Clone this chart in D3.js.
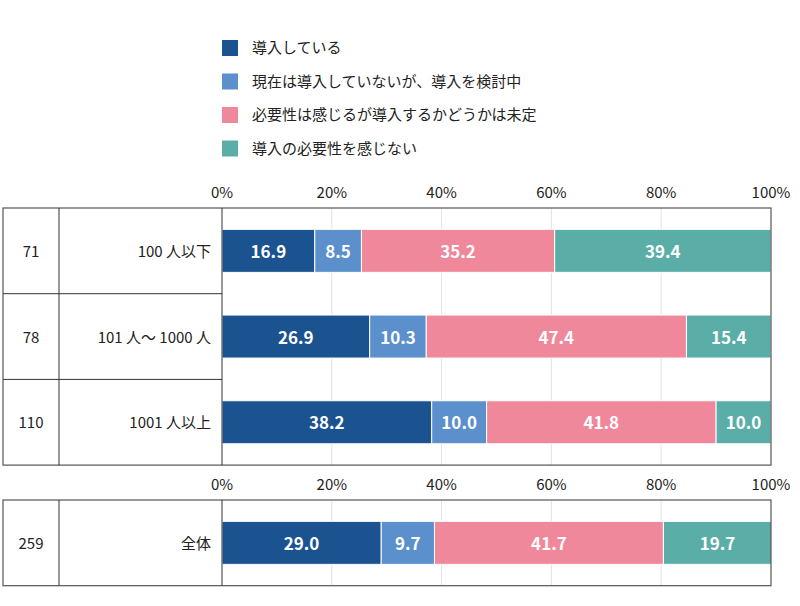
<!DOCTYPE html>
<html><head><meta charset="utf-8">
<script src="https://cdn.jsdelivr.net/npm/d3@7"></script>
<style>body{margin:0;background:#fff}text{font-family:"Noto Sans CJK JP","Noto Sans",sans-serif}</style>
</head><body>
<script>
var seriesNames = ["導入している", "現在は導入していないが、導入を検討中", "必要性は感じるが導入するかどうかは未定", "導入の必要性を感じない"];
var colors = ["#1b5290", "#5b90cd", "#f0889b", "#5baea7"];
var groupN = ["71", "78", "110"];
var groupLabels = ["100 人以下", "101 人～ 1000 人", "1001 人以上"];
var groupValues = [[16.9, 8.5, 35.2, 39.4], [26.9, 10.3, 47.4, 15.4], [38.2, 10.0, 41.8, 10.0]];
var totalN = ["259"];
var totalLabels = ["全体"];
var totalValues = [[29.0, 9.7, 41.7, 19.7]];
var ticks = [0, 20, 40, 60, 80, 100];

var svg = d3.select("body").append("svg").attr("width", 800).attr("height", 606);

var lg = svg.selectAll(".lg").data(seriesNames).enter().append("g")
  .attr("transform", function (d, i) { return "translate(222," + (40 + i * 33.5) + ")"; });
lg.append("rect").attr("width", 16).attr("height", 16).attr("fill", function (d, i) { return colors[i]; });
lg.append("text").attr("x", 30).attr("y", 13).attr("font-size", 15).attr("fill", "#222").text(function (d) { return d; });

var x = d3.scaleLinear().domain([0, 100]).range([222, 771]);

function panel(top, ns, labels, values) {
  var rowH = 85.7;
  var h = rowH * labels.length;
  var g = svg.append("g");
  g.selectAll(".grid").data(ticks.slice(1, 5)).enter().append("line")
    .attr("x1", x).attr("x2", x).attr("y1", top).attr("y2", top + h)
    .attr("stroke", "#e2e2e2");
  g.selectAll(".tk").data(ticks).enter().append("text")
    .attr("x", x).attr("y", top - 10).attr("text-anchor", "middle")
    .attr("font-size", 15).attr("fill", "#222").text(function (d) { return d + "%"; });
  var y = d3.scaleBand().domain(d3.range(labels.length)).range([top, top + h]);
  labels.forEach(function (lab, r) {
    var cy = y(r) + y.bandwidth() / 2;
    g.append("text").attr("x", 31).attr("y", cy + 6).attr("text-anchor", "middle")
      .attr("font-size", 15).attr("fill", "#222").text(ns[r]);
    g.append("text").attr("x", 211).attr("y", cy + 6).attr("text-anchor", "end")
      .attr("font-size", 15).attr("fill", "#222").text(lab);
    if (r > 0) g.append("line").attr("x1", 3).attr("x2", 222).attr("y1", y(r)).attr("y2", y(r)).attr("stroke", "#333");
    var acc = 0;
    values[r].forEach(function (v, k) {
      var x0 = x(acc), x1 = x(acc + v);
      acc += v;
      g.append("rect").attr("x", x0).attr("y", cy - 21.5).attr("width", x1 - x0).attr("height", 43)
        .attr("fill", colors[k]).attr("stroke", "#fff").attr("stroke-width", 1);
      g.append("text").attr("x", (x0 + x1) / 2).attr("y", cy + 7).attr("text-anchor", "middle")
        .attr("font-size", 17).attr("font-weight", "bold").attr("fill", "#fff").text(v.toFixed(1));
    });
  });
  g.append("rect").attr("x", 3).attr("y", top).attr("width", 768).attr("height", h)
    .attr("fill", "none").attr("stroke", "#555").attr("stroke-width", 1.2);
  g.append("line").attr("x1", 59).attr("x2", 59).attr("y1", top).attr("y2", top + h).attr("stroke", "#333");
  g.append("line").attr("x1", 222).attr("x2", 222).attr("y1", top).attr("y2", top + h).attr("stroke", "#333");
}
panel(208, groupN, groupLabels, groupValues);
panel(500, totalN, totalLabels, totalValues);
</script>
</body></html>
